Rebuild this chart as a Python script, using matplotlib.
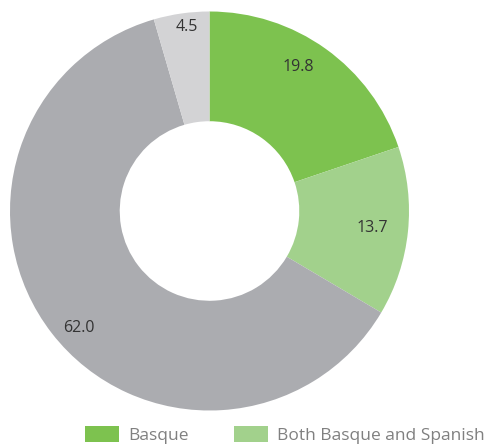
import matplotlib
matplotlib.use("Agg")
import matplotlib.pyplot as plt
from matplotlib.patches import Patch
import numpy as np

categories = ["Basque", "Both Basque and Spanish", "Spanish", "Other"]
values = [19.8, 13.7, 62.0, 4.5]
colors = ["#7DC24F", "#A2D18C", "#ABACB0", "#D3D3D5"]
legend_shown = ["Basque", "Both Basque and Spanish"]
label_radius = [0.85, 0.82, 0.88, 0.93]
label_angle_offset = [4, 0, 4, -1]

plt.rcParams['font.family'] = ['Open Sans', 'DejaVu Sans']

W, H = 485, 445
fig = plt.figure(figsize=(W / 100, H / 100), dpi=100)
cx, cy, R = 209.5, 211, 199.5
ax = fig.add_axes([(cx - R) / W, (H - cy - R) / H, 2 * R / W, 2 * R / H])
wedges, _ = ax.pie(values, colors=colors, startangle=90, counterclock=False,
                   radius=1, wedgeprops=dict(width=0.55, linewidth=0))
ax.set_xlim(-1, 1)
ax.set_ylim(-1, 1)
ax.axis('off')

for w, v, r, off in zip(wedges, values, label_radius, label_angle_offset):
    ang = np.deg2rad((w.theta1 + w.theta2) / 2 + off)
    ax.text(r * np.cos(ang), r * np.sin(ang), f"{v:.1f}", ha='center', va='center',
            fontsize=11.5, color='#333333')

handles = [Patch(facecolor=colors[categories.index(c)], edgecolor='none', label=c)
           for c in legend_shown]
fig.legend(handles=handles, loc='lower left', bbox_to_anchor=(85 / W, 1 / H),
           ncol=2, frameon=False, fontsize=12.5, labelcolor='#808080',
           handlelength=1.95, handleheight=1.1, handletextpad=0.52,
           columnspacing=2.65, borderpad=0, borderaxespad=0)

fig.savefig("out.png", dpi=100)
